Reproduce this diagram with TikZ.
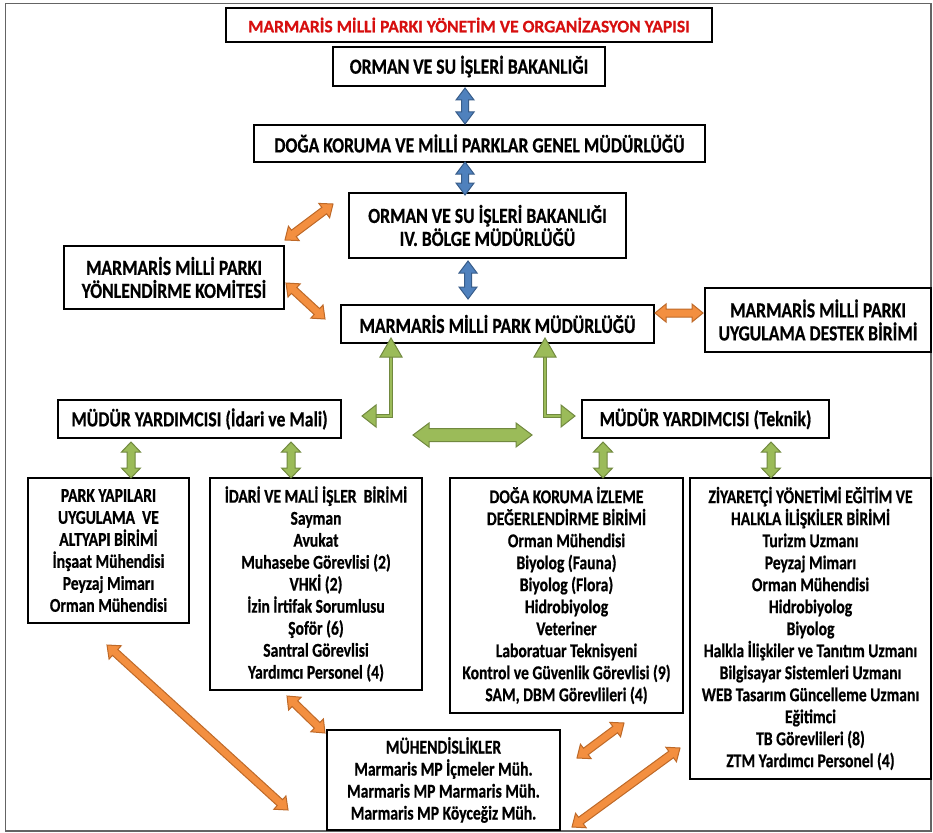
\documentclass[tikz,border=0pt]{standalone}
\usepackage{fontspec}
\setmainfont{Carlito}
\newfontfamily\titf[FakeBold=0.6]{Carlito}
\newfontfamily\topf[FakeStretch=0.82, FakeBold=0.6]{Carlito}
\newfontfamily\botf[FakeStretch=0.8, FakeBold=0.6]{Carlito}
\usetikzlibrary{calc}
\definecolor{bfill}{RGB}{79,129,189}
\definecolor{bline}{RGB}{56,93,138}
\definecolor{ofill}{RGB}{243,143,64}
\definecolor{oline}{RGB}{190,105,40}
\definecolor{gfill}{RGB}{155,187,89}
\definecolor{gline}{RGB}{113,137,63}
\definecolor{titlered}{RGB}{215,15,15}
\definecolor{framegray}{RGB}{100,100,100}
% #1 style, #2 from, #3 to, #4 shaft half width, #5 head half width, #6 head length
\newcommand\blockarr[6]{%
  \coordinate (ba1) at ($(#2)!#6!(#3)$);
  \coordinate (ba2) at ($(#3)!#6!(#2)$);
  \draw[#1] (#2) -- ($(ba1)!#5!90:(#3)$) -- ($(ba1)!#4!90:(#3)$)
    -- ($(ba2)!#4!-90:(#2)$) -- ($(ba2)!#5!-90:(#2)$) -- (#3)
    -- ($(ba2)!#5!90:(#2)$) -- ($(ba2)!#4!90:(#2)$)
    -- ($(ba1)!#4!-90:(#3)$) -- ($(ba1)!#5!-90:(#3)$) -- cycle;}
\tikzset{
  box/.style={draw=black, line width=2pt, fill=white, inner sep=0pt, align=center},
  topbox/.style={box, font=\topf\bfseries\fontsize{21.5}{23}\selectfont},
  botbox/.style={box, font=\botf\bfseries\fontsize{19.5}{22}\selectfont},
  bluearr/.style={fill=bfill, draw=bline, line width=1pt, line join=miter},
  orarr/.style={fill=ofill, draw=oline, line width=1pt, line join=miter},
  grarr/.style={fill=gfill, draw=gline, line width=1pt, line join=miter},
}
\begin{document}
\begin{tikzpicture}[x=1pt, y={(0pt,-1pt)}]
\useasboundingbox (0,0) rectangle (933,832);
\fill[white] (0,0) rectangle (933,832);
\draw[framegray, line width=1.5pt] (5.5,3.5) rectangle (931,831);

% boxes
\node[box, minimum width=486, minimum height=34, text=titlered,
      font=\titf\bfseries\fontsize{17.5}{20}\selectfont] (title) at (469,25)
  {MARMARİS MİLLİ PARKI YÖNETİM VE ORGANİZASYON YAPISI};
\node[topbox, minimum width=272, minimum height=39] (bak) at (469,66.5)
  {ORMAN VE SU İŞLERİ BAKANLIĞI};
\node[topbox, minimum width=451, minimum height=37] (dkmp) at (479.5,143.5)
  {DOĞA KORUMA VE MİLLİ PARKLAR GENEL MÜDÜRLÜĞÜ};
\node[topbox, minimum width=277, minimum height=65] (bolge) at (487.5,225.5)
  {ORMAN VE SU İŞLERİ BAKANLIĞI\\IV. BÖLGE MÜDÜRLÜĞÜ};
\node[topbox, minimum width=220, minimum height=63] (komite) at (174,277.5)
  {MARMARİS MİLLİ PARKI\\YÖNLENDİRME KOMİTESİ};
\node[topbox, minimum width=313, minimum height=38] (mpm) at (497.5,324)
  {MARMARİS MİLLİ PARK MÜDÜRLÜĞÜ};
\node[topbox, minimum width=226, minimum height=64] (destek) at (818,320)
  {MARMARİS MİLLİ PARKI\\UYGULAMA DESTEK BİRİMİ};
\node[topbox, minimum width=283, minimum height=38] (myidari) at (199.5,419)
  {MÜDÜR YARDIMCISI (İdari ve Mali)};
\node[topbox, minimum width=247, minimum height=38] (myteknik) at (705.5,419)
  {MÜDÜR YARDIMCISI (Teknik)};

\node[botbox, minimum width=161, minimum height=145] (park) at (108.5,550.5)
  {PARK YAPILARI\\UYGULAMA\ \ VE\\ALTYAPI BİRİMİ\\İnşaat Mühendisi\\Peyzaj Mimarı\\Orman Mühendisi};
\node[botbox, minimum width=212, minimum height=212] (idari) at (316,584)
  {İDARİ VE MALİ İŞLER\ \ BİRİMİ\\Sayman\\Avukat\\Muhasebe Görevlisi (2)\\VHKİ (2)\\İzin İrtifak Sorumlusu\\Şoför (6)\\Santral Görevlisi\\Yardımcı Personel (4)};
\node[botbox, minimum width=233, minimum height=235] (doga) at (566.5,595.5)
  {DOĞA KORUMA İZLEME\\DEĞERLENDİRME BİRİMİ\\Orman Mühendisi\\Biyolog (Fauna)\\Biyolog (Flora)\\Hidrobiyolog\\Veteriner\\Laboratuar Teknisyeni\\Kontrol ve Güvenlik Görevlisi (9)\\SAM, DBM Görevlileri (4)};
\node[botbox, minimum width=241, minimum height=301] (ziy) at (810.5,628.5)
  {ZİYARETÇİ YÖNETİMİ EĞİTİM VE\\HALKLA İLİŞKİLER BİRİMİ\\Turizm Uzmanı\\Peyzaj Mimarı\\Orman Mühendisi\\Hidrobiyolog\\Biyolog\\Halkla İlişkiler ve Tanıtım Uzmanı\\Bilgisayar Sistemleri Uzmanı\\WEB Tasarım Güncelleme Uzmanı\\Eğitimci\\TB Görevlileri (8)\\ZTM Yardımcı Personel (4)};
\node[botbox, minimum width=233, minimum height=100] (muh) at (443.5,780)
  {MÜHENDİSLİKLER\\Marmaris MP İçmeler Müh.\\Marmaris MP Marmaris Müh.\\Marmaris MP Köyceğiz Müh.};

% arrow end points
\coordinate (b1a) at (465,88);   \coordinate (b1b) at (465,124);
\coordinate (b2a) at (465,162);  \coordinate (b2b) at (465,195);
\coordinate (b3a) at (468,261);  \coordinate (b3b) at (468,299);
\coordinate (o1a) at (285,240);  \coordinate (o1b) at (333,204);
\coordinate (o2a) at (286,283);  \coordinate (o2b) at (325,319);
\coordinate (o3a) at (655,313);  \coordinate (o3b) at (703,313);
\coordinate (o4a) at (107,645);  \coordinate (o4b) at (288,810);
\coordinate (o5a) at (287,696);  \coordinate (o5b) at (325,733);
\coordinate (o6a) at (577,758);  \coordinate (o6b) at (624,723);
\coordinate (o7a) at (572,827);  \coordinate (o7b) at (680,748);
\coordinate (g1a) at (131,442);  \coordinate (g1b) at (131,478);
\coordinate (g2a) at (291,442);  \coordinate (g2b) at (291,478);
\coordinate (g3a) at (603,442);  \coordinate (g3b) at (603,478);
\coordinate (g4a) at (771,442);  \coordinate (g4b) at (771,478);
\coordinate (gha) at (413,435);  \coordinate (ghb) at (532,435);

\blockarr{bluearr}{b1a}{b1b}{3.5pt}{9pt}{12pt}
\blockarr{bluearr}{b2a}{b2b}{3.5pt}{9pt}{12pt}
\blockarr{bluearr}{b3a}{b3b}{3.5pt}{9pt}{12pt}
\blockarr{orarr}{o1a}{o1b}{4pt}{9pt}{11pt}
\blockarr{orarr}{o2a}{o2b}{4pt}{9pt}{11pt}
\blockarr{orarr}{o3a}{o3b}{4pt}{9pt}{11pt}
\blockarr{orarr}{o4a}{o4b}{4pt}{9pt}{11pt}
\blockarr{orarr}{o5a}{o5b}{4pt}{9pt}{11pt}
\blockarr{orarr}{o6a}{o6b}{4pt}{9pt}{11pt}
\blockarr{orarr}{o7a}{o7b}{4pt}{9pt}{11pt}
\blockarr{grarr}{g1a}{g1b}{4pt}{9.5pt}{10pt}
\blockarr{grarr}{g2a}{g2b}{4pt}{9.5pt}{10pt}
\blockarr{grarr}{g3a}{g3b}{4pt}{9.5pt}{10pt}
\blockarr{grarr}{g4a}{g4b}{4pt}{9.5pt}{10pt}
\blockarr{grarr}{gha}{ghb}{6.5pt}{12pt}{16pt}

% elbow arrows from the park directorate
\coordinate (eLtip) at (391,338);  \coordinate (eLbase) at (391,357);
\coordinate (eLcorner) at (391,416);
\coordinate (eLhb) at (376,416);   \coordinate (eLend) at (362,416);
\coordinate (eRtip) at (545,338);  \coordinate (eRbase) at (545,357);
\coordinate (eRcorner) at (545,416);
\coordinate (eRhb) at (561,416);   \coordinate (eRend) at (575,416);
\foreach \b/\c/\h in {eLbase/eLcorner/eLhb, eRbase/eRcorner/eRhb}{
  \draw[gline, line width=3.6pt, line join=miter] (\b) -- (\c) -- (\h);
  \draw[gfill, line width=1.6pt, line join=miter] (\b) -- (\c) -- (\h);
}
\draw[grarr] (eLtip) -- ($(eLbase)+(-11,0)$) -- ($(eLbase)+(11,0)$) -- cycle;
\draw[grarr] (eRtip) -- ($(eRbase)+(-11,0)$) -- ($(eRbase)+(11,0)$) -- cycle;
\draw[grarr] (eLend) -- ($(eLhb)+(0,-11)$) -- ($(eLhb)+(0,11)$) -- cycle;
\draw[grarr] (eRend) -- ($(eRhb)+(0,-11)$) -- ($(eRhb)+(0,11)$) -- cycle;
\end{tikzpicture}
\end{document}
